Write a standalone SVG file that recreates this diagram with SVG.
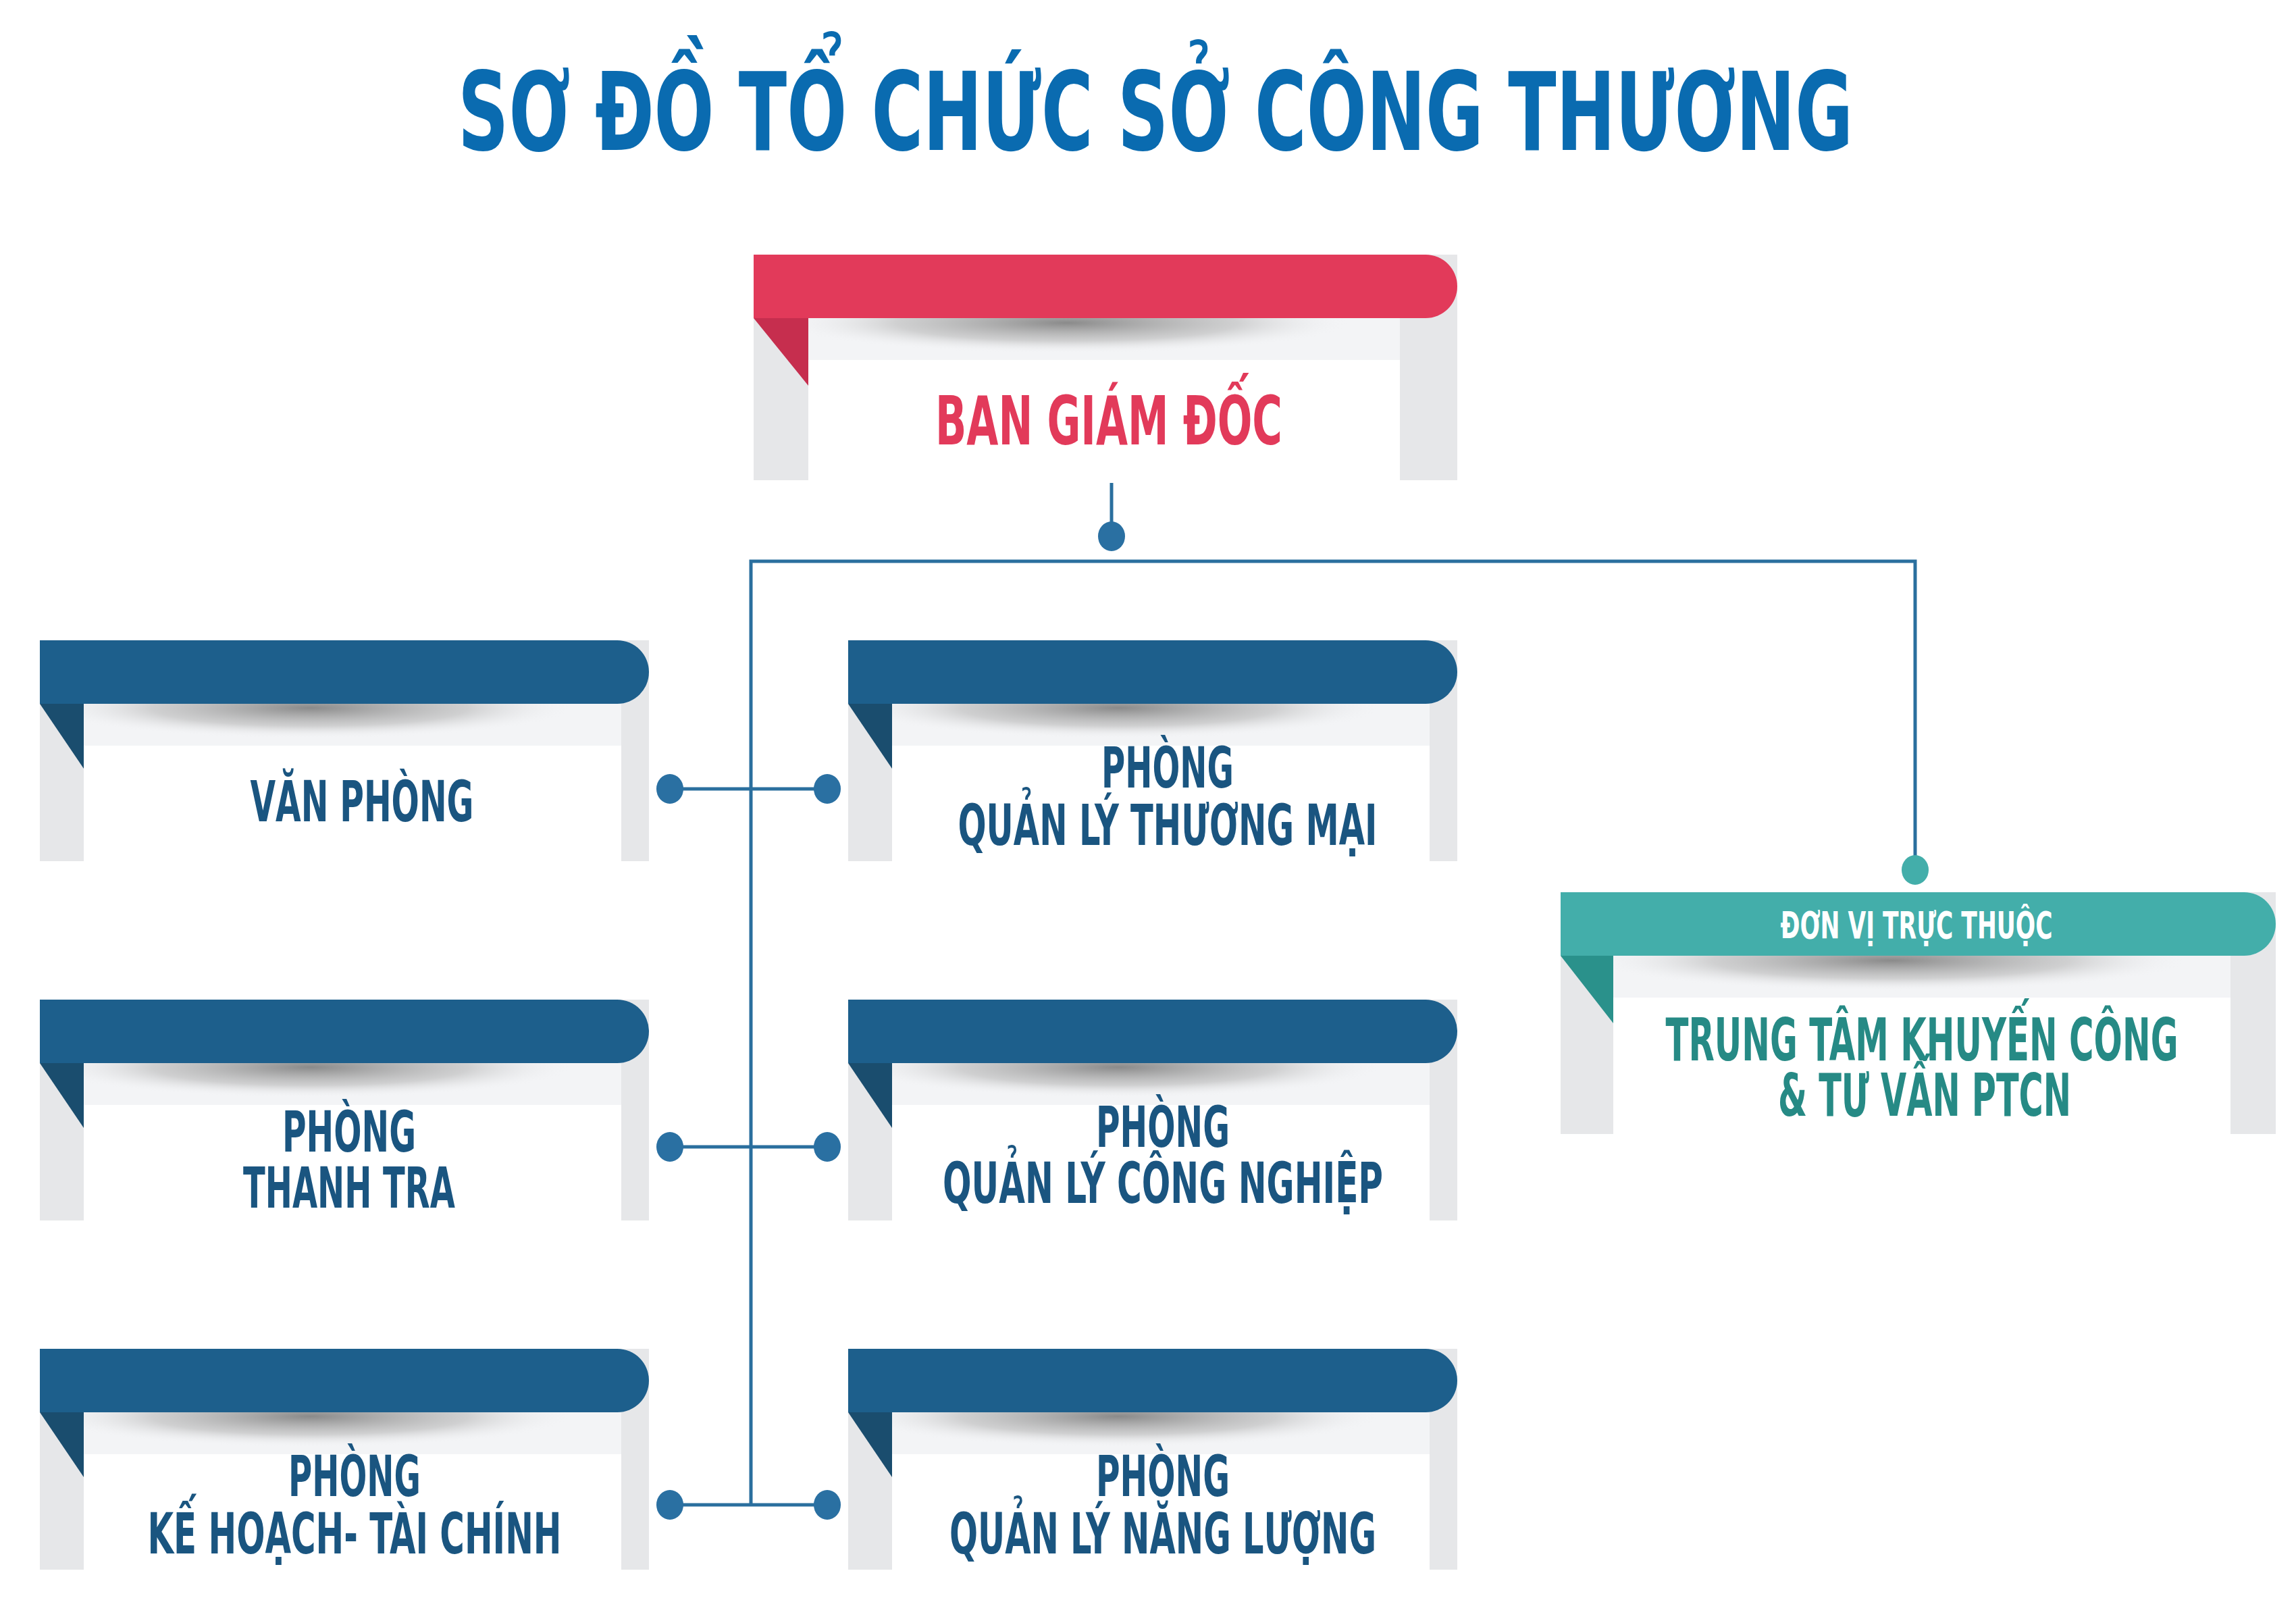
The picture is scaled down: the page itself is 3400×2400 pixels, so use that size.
<svg xmlns="http://www.w3.org/2000/svg" xmlns:xlink="http://www.w3.org/1999/xlink" width="3400" height="2400" viewBox="0 0 3400 2400">
<style>
.t{font-family:"DejaVu Sans Condensed","DejaVu Sans",sans-serif;font-stretch:condensed;font-weight:bold;text-anchor:middle}
.b{fill:#1a5580;font-size:84px}
.g{fill:#268a85;font-size:88px}
.ln{stroke:#2a6f9e;stroke-width:5;fill:none}
.dot{fill:#2a70a2}
</style>
<defs>
<radialGradient id="sh" cx="0.5" cy="0.5" r="0.5">
<stop offset="0" stop-color="#8a8a8a"/>
<stop offset="0.6" stop-color="#b8b8b8" stop-opacity="0.6"/>
<stop offset="1" stop-color="#f3f4f6" stop-opacity="0"/>
</radialGradient>
<g id="base">
<rect x="0" y="0" width="902" height="327" fill="#e6e7e9"/>
<rect x="65" y="94" width="796" height="233" fill="#ffffff"/>
<rect x="65" y="94" width="796" height="62" fill="#f3f4f6"/>
<ellipse cx="400" cy="100" rx="390" ry="45" fill="url(#sh)"/>
</g>
<g id="blueCard">
<use xlink:href="#base"/>
<path d="M0,0 H855 A47,47 0 0 1 855,94 H0 Z" fill="#1d5f8c"/>
<polygon points="0,94 65,94 65,190" fill="#1a4d6e"/>
</g>
</defs>
<rect width="3400" height="2400" fill="#ffffff"/>
<text class="t" x="1711" y="222" font-size="160" fill="#0a6bb0" textLength="2066" lengthAdjust="spacingAndGlyphs">SƠ ĐỒ TỔ CHỨC SỞ CÔNG THƯƠNG</text>

<g id="connectors">
<path class="ln" d="M1646,715 V794 M1112,2228 V831 H2836 V1288"/>
<ellipse class="dot" cx="1646" cy="794" rx="20" ry="22"/>
<ellipse cx="2836" cy="1288" rx="20" ry="22" fill="#43aeaa"/>
<path class="ln" d="M992,1168 H1225 M992,1698 H1225 M992,2228 H1225"/>
<ellipse class="dot" cx="992" cy="1168" rx="20" ry="22"/>
<ellipse class="dot" cx="1225" cy="1168" rx="20" ry="22"/>
<ellipse class="dot" cx="992" cy="1698" rx="20" ry="22"/>
<ellipse class="dot" cx="1225" cy="1698" rx="20" ry="22"/>
<ellipse class="dot" cx="992" cy="2228" rx="20" ry="22"/>
<ellipse class="dot" cx="1225" cy="2228" rx="20" ry="22"/>
</g>

<g id="ban-giam-doc">
<rect x="1116" y="377" width="1042" height="334" fill="#e6e7e9"/>
<rect x="1197" y="471" width="876" height="240" fill="#ffffff"/>
<rect x="1197" y="471" width="876" height="62" fill="#f3f4f6"/>
<ellipse cx="1580" cy="478" rx="420" ry="45" fill="url(#sh)"/>
<path d="M1116,377 H2111 A47,47 0 0 1 2111,471 H1116 Z" fill="#e23a5a"/>
<polygon points="1116,471 1197,471 1197,571" fill="#c62e4e"/>
<text class="t" x="1642" y="658" font-size="100" fill="#e23a5a" textLength="514" lengthAdjust="spacingAndGlyphs">BAN GIÁM ĐỐC</text>
</g>

<g id="van-phong" transform="translate(59,948)">
<use xlink:href="#blueCard"/>
<text class="t b" x="477" y="268" textLength="331" lengthAdjust="spacingAndGlyphs">VĂN PHÒNG</text>
</g>
<g id="ql-thuong-mai" transform="translate(1256,948)">
<use xlink:href="#blueCard"/>
<text class="t b" x="473" y="218" textLength="196" lengthAdjust="spacingAndGlyphs">PHÒNG</text>
<text class="t b" x="473" y="303" textLength="621" lengthAdjust="spacingAndGlyphs">QUẢN LÝ THƯƠNG MẠI</text>
</g>
<g id="thanh-tra" transform="translate(59,1480)">
<use xlink:href="#blueCard"/>
<text class="t b" x="458" y="225" textLength="198" lengthAdjust="spacingAndGlyphs">PHÒNG</text>
<text class="t b" x="458" y="308" textLength="314" lengthAdjust="spacingAndGlyphs">THANH TRA</text>
</g>
<g id="ql-cong-nghiep" transform="translate(1256,1480)">
<use xlink:href="#blueCard"/>
<text class="t b" x="466" y="218" textLength="198" lengthAdjust="spacingAndGlyphs">PHÒNG</text>
<text class="t b" x="466" y="301" textLength="652" lengthAdjust="spacingAndGlyphs">QUẢN LÝ CÔNG NGHIỆP</text>
</g>
<g id="ke-hoach-tai-chinh" transform="translate(59,1997)">
<use xlink:href="#blueCard"/>
<text class="t b" x="466" y="218" textLength="196" lengthAdjust="spacingAndGlyphs">PHÒNG</text>
<text class="t b" x="466" y="303" textLength="613" lengthAdjust="spacingAndGlyphs">KẾ HOẠCH- TÀI CHÍNH</text>
</g>
<g id="ql-nang-luong" transform="translate(1256,1997)">
<use xlink:href="#blueCard"/>
<text class="t b" x="466" y="218" textLength="198" lengthAdjust="spacingAndGlyphs">PHÒNG</text>
<text class="t b" x="466" y="303" textLength="632" lengthAdjust="spacingAndGlyphs">QUẢN LÝ NĂNG LƯỢNG</text>
</g>

<g id="don-vi-truc-thuoc">
<rect x="2311" y="1321" width="1059" height="358" fill="#e6e7e9"/>
<rect x="2389" y="1415" width="914" height="264" fill="#ffffff"/>
<rect x="2389" y="1415" width="914" height="62" fill="#f3f4f6"/>
<ellipse cx="2800" cy="1422" rx="440" ry="45" fill="url(#sh)"/>
<path d="M2311,1321 H3323 A47,47 0 0 1 3323,1415 H2311 Z" fill="#43aeaa"/>
<polygon points="2311,1415 2389,1415 2389,1515" fill="#2a918b"/>
<text class="t" x="2838" y="1389" font-size="56" fill="#ffffff" textLength="403" lengthAdjust="spacingAndGlyphs">ĐƠN VỊ TRỰC THUỘC</text>
<text class="t g" x="2846" y="1570" textLength="759" lengthAdjust="spacingAndGlyphs">TRUNG TÂM KHUYẾN CÔNG</text>
<text class="t g" x="2850" y="1652" textLength="434" lengthAdjust="spacingAndGlyphs">&amp; TƯ VẤN PTCN</text>
</g>
</svg>
